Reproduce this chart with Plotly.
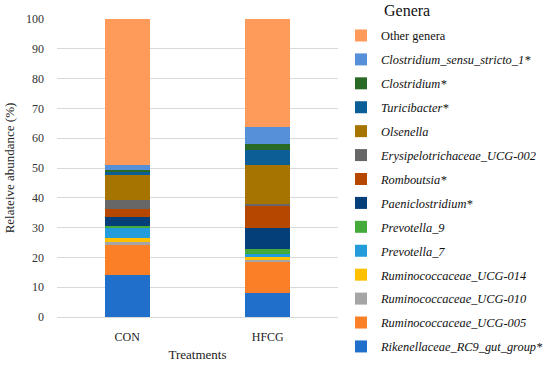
import plotly.graph_objects as go

treatments = ["CON", "HFCG"]

genera = [
    "<i>Rikenellaceae_RC9_gut_group*</i>",
    "<i>Ruminococcaceae_UCG-005</i>",
    "<i>Ruminococcaceae_UCG-010</i>",
    "<i>Ruminococcaceae_UCG-014</i>",
    "<i>Prevotella_7</i>",
    "<i>Prevotella_9</i>",
    "<i>Paeniclostridium*</i>",
    "<i>Romboutsia*</i>",
    "<i>Erysipelotrichaceae_UCG-002</i>",
    "<i>Olsenella</i>",
    "<i>Turicibacter*</i>",
    "<i>Clostridium*</i>",
    "<i>Clostridium_sensu_stricto_1*</i>",
    "Other genera",
]

con_values = [14.0, 10.2, 0.9, 1.5, 3.2, 0.7, 3.0, 2.6, 3.2, 8.3, 1.1, 0.6, 1.7, 49.0]
hfcg_values = [8.0, 10.4, 0.7, 1.1, 1.0, 1.6, 7.0, 7.4, 0.7, 13.1, 5.0, 2.0, 5.9, 36.1]

colors = [
    "#1F6FCB", "#FB7F26", "#A5A5A5", "#FFC000", "#249BDB", "#44AA3A",
    "#043F7A", "#B54700", "#676767", "#A67400", "#0B5E96", "#2A6A27",
    "#5690D8", "#FF9B5A",
]

serif = "'Liberation Serif', Tinos, 'Times New Roman', 'DejaVu Serif', serif"

fig = go.Figure()
n = len(genera)
for i, name in enumerate(genera):
    fig.add_trace(go.Bar(
        x=treatments,
        y=[con_values[i], hfcg_values[i]],
        name=name,
        marker=dict(color=colors[i], line=dict(width=0)),
        legendgroup=f"g{i}",
        legendrank=n - i,
    ))

fig.update_layout(
    barmode="stack",
    bargap=0.68,
    width=550, height=367,
    margin=dict(l=57, r=212, t=19, b=50, autoexpand=False),
    plot_bgcolor="white", paper_bgcolor="white",
    font=dict(family=serif, size=12, color="#222222"),
    showlegend=True,
    legend=dict(
        traceorder="grouped",
        tracegroupgap=4.8,
        xref="container", yref="container",
        x=0.62, xanchor="left", y=0.943, yanchor="top",
        maxheight=360,
        font=dict(family=serif, size=12.4, color="#111111"),
        bgcolor="rgba(0,0,0,0)",
    ),
    annotations=[dict(
        text="Genera", xref="paper", yref="paper", x=1.155, y=1.063,
        xanchor="left", yanchor="top", showarrow=False,
        font=dict(family=serif, size=16, color="#111111"),
    )],
)
fig.update_yaxes(
    range=[0, 100], dtick=10, showgrid=True, gridcolor="#D9D9D9", gridwidth=1,
    zeroline=False, showline=False, ticklabelstandoff=12,
    tickfont=dict(family=serif, size=12, color="#333333"),
    title=dict(text="Relateive abundance (%)", font=dict(family=serif, size=13, color="#222222"), standoff=8),
)
fig.update_xaxes(
    showline=True, linecolor="#D9D9D9", linewidth=1, ticklabelstandoff=9,
    tickfont=dict(family=serif, size=12, color="#222222"),
    title=dict(text="Treatments", font=dict(family=serif, size=13, color="#222222"), standoff=6),
)

fig.write_html("out.html", config={"displayModeBar": False},
               post_script="document.body.style.margin='0';")
